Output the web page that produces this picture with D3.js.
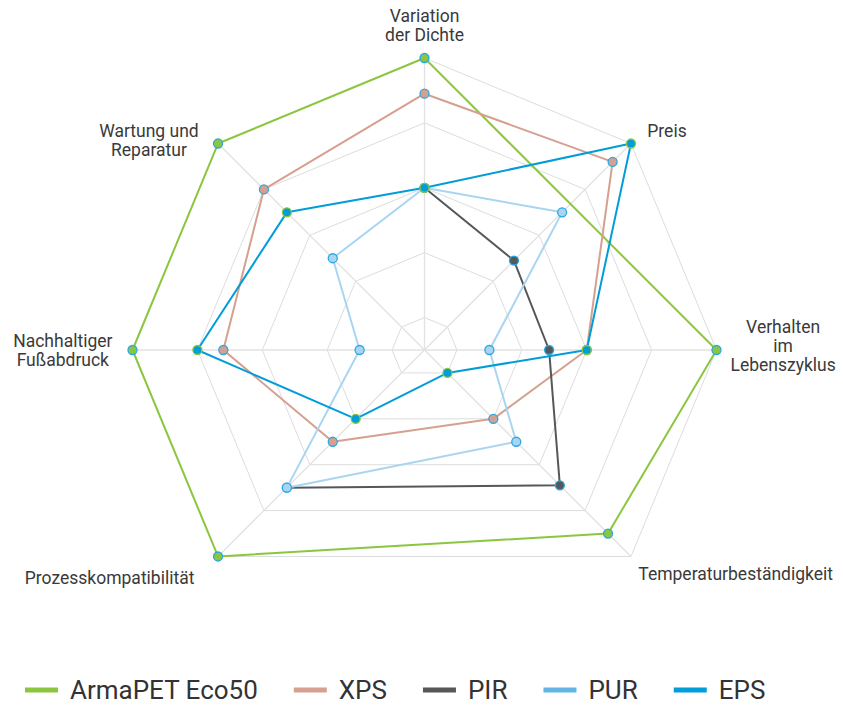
<!DOCTYPE html>
<html>
<head>
<meta charset="utf-8">
<script src="https://cdn.jsdelivr.net/npm/d3@7"></script>
<style>
  html, body { margin: 0; padding: 0; background: #fff; }
  svg { display: block; font-family: Roboto, "Noto Sans", sans-serif; }
</style>
</head>
<body>
<svg id="chart" width="843" height="707"></svg>
<script>
// ---------- DATA ----------
const categories = [
  "Variation der Dichte", "Preis", "Verhalten im Lebenszyklus",
  "Temperaturbeständigkeit", "", "Prozesskompatibilität",
  "Nachhaltiger Fußabdruck", "Wartung und Reparatur"
];
const categoryLines = [
  ["Variation", "der Dichte"], ["Preis"], ["Verhalten", "im", "Lebenszyklus"],
  ["Temperaturbeständigkeit"], [], ["Prozesskompatibilität"],
  ["Nachhaltiger", "Fußabdruck"], ["Wartung und", "Reparatur"]
];
const seriesNames = ["ArmaPET Eco50", "XPS", "PIR", "PUR", "EPS"];
const armapetValues = [5, null, 5, 4.5, null, 5, 5, 5];
const xpsValues     = [4.45, 4.6, 3, 2, null, 2.5, 3.6, 4];
const pirValues     = [3, 2.45, 2.42, 3.45, null, 3.5, null, null];
const purValues     = [3, 3.5, 1.5, 2.5, null, 3.5, 1.5, 2.5];
const epsValues     = [3, 5, 3, 1, null, 2, 4, 3.5];
const gridLevels = [1, 2, 3, 4, 5];

// ---------- STYLE ----------
const legendColors = ["#8cc63f", "#d5a08f", "#555759", "#62b5e5", "#009dd9"];
const lineColors   = ["#8cc63f", "#d5a08f", "#555759", "#a9d5f2", "#009dd9"];
const markerStroke = ["#2aa8e0", "#2aa8e0", "#2aa8e0", "#2aa8e0", "#8cc63f"];

const series = seriesNames.map((name, k) => ({
  name, values: [armapetValues, xpsValues, pirValues, purValues, epsValues][k], k
}));

// ---------- LAYOUT ----------
const svg = d3.select("#chart");
const cx = 424.5, cy = 350, R = 292;
const g = svg.append("g").attr("transform", `translate(${cx},${cy})`);

const angle = d3.scaleLinear().domain([0, categories.length]).range([0, 2 * Math.PI]);
const radius = d3.scaleLinear().domain([0.5, 5]).range([0, R]);

const activeIdx = categories.map((c, i) => i).filter(i => categories[i] !== "");

// grid polygons
gridLevels.forEach(lv => {
  const rr = radius(lv);
  const path = d3.lineRadial().angle(i => angle(i)).radius(() => rr).curve(d3.curveLinearClosed);
  g.append("path")
    .attr("d", path(activeIdx))
    .attr("fill", "none")
    .attr("stroke", "#dddddd")
    .attr("stroke-width", 1);
});

// spokes
activeIdx.forEach(i => {
  const a = angle(i);
  g.append("line")
    .attr("x1", 0).attr("y1", 0)
    .attr("x2", R * Math.sin(a)).attr("y2", -R * Math.cos(a))
    .attr("stroke", "#e2e2e2")
    .attr("stroke-width", 1.3);
});

// series
series.forEach(s => {
  const pts = s.values.map((v, i) => ({ v, i })).filter(d => d.v !== null);
  const last = categories.length - 1;
  const closed = s.values[last] !== null && s.values[0] !== null;
  const line = d3.lineRadial()
    .angle(d => angle(d.i))
    .radius(d => radius(d.v))
    .curve(closed ? d3.curveLinearClosed : d3.curveLinear);
  const sg = g.append("g");
  sg.append("path")
    .attr("d", line(pts))
    .attr("fill", "none")
    .attr("stroke", lineColors[s.k])
    .attr("stroke-width", 2)
    .attr("stroke-linejoin", "round");
  sg.selectAll("circle").data(pts).join("circle")
    .attr("cx", d => radius(d.v) * Math.sin(angle(d.i)))
    .attr("cy", d => -radius(d.v) * Math.cos(angle(d.i)))
    .attr("r", 4.5)
    .attr("fill", lineColors[s.k])
    .attr("stroke", markerStroke[s.k])
    .attr("stroke-width", 1.3);
});

// axis labels
const labelPad = 16;
const lineStep = 19;
const labelNudge = { 0: [0, 3], 1: [5, -1], 2: [-2, -4], 3: [-4, 6], 5: [-12, 10], 6: [-4, 0], 7: [-8, 8] };
activeIdx.forEach(i => {
  const a = angle(i);
  const s = Math.sin(a), c = Math.cos(a);
  const px = (R + labelPad) * s, py = -(R + labelPad) * c;
  const t = g.append("text")
    .attr("font-size", 17.5)
    .attr("fill", "#3a3a3a")
    .attr("text-anchor", "middle");
  categoryLines[i].forEach((ln, j) => {
    t.append("tspan").attr("x", 0).attr("y", j * lineStep).text(ln);
  });
  const bb = t.node().getBBox();
  let tx, ty;
  if (s > 0.1) tx = px - bb.x;
  else if (s < -0.1) tx = px - (bb.x + bb.width);
  else tx = px - (bb.x + bb.width / 2);
  if (c > 0.9) ty = py - (bb.y + bb.height);
  else if (c < -0.9) ty = py - bb.y;
  else ty = py - (bb.y + bb.height / 2);
  const n = labelNudge[i] || [0, 0];
  t.attr("transform", `translate(${tx + n[0]},${ty + n[1]})`);
});

// legend
const legend = svg.append("g").attr("transform", "translate(25,690)");
let lx = 0;
series.forEach(s => {
  const it = legend.append("g").attr("transform", `translate(${lx},0)`);
  it.append("rect").attr("x", 0).attr("y", -2.5).attr("width", 33).attr("height", 5)
    .attr("fill", legendColors[s.k]);
  const tx = it.append("text").attr("x", 45).attr("y", 0)
    .attr("dominant-baseline", "central")
    .attr("font-size", 26).attr("fill", "#333333").text(s.name);
  lx += 45 + tx.node().getComputedTextLength() + 36;
});
</script>
</body>
</html>
